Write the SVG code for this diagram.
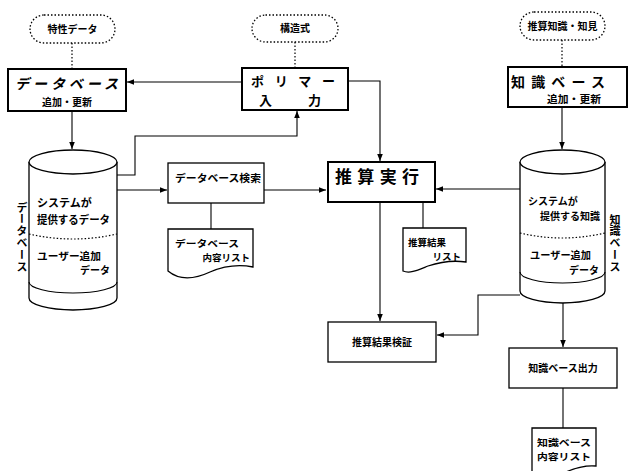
<svg xmlns="http://www.w3.org/2000/svg" width="628" height="471" viewBox="0 0 628 471">
<defs>
<marker id="ah" viewBox="0 0 10 10" refX="10" refY="5" markerWidth="7" markerHeight="7" orient="auto" markerUnits="userSpaceOnUse">
<path d="M0,1 L10,5 L0,9 Z" fill="#000"/>
</marker>
<style>
text{font-family:"Noto Sans CJK JP","Noto Sans CJK SC",sans-serif;fill:#000;font-weight:700}
.s{font-size:10px}
.t{font-size:9.5px}
.m{font-size:11px}
.pill{fill:#fff;stroke:#000;stroke-width:1.3;stroke-dasharray:1.5 2}
.box{fill:#fff;stroke:#000;stroke-width:1.3}
.bbox{fill:#fff;stroke:#000;stroke-width:2}
.cyl{fill:#fff;stroke:#000;stroke-width:1.3}
.ln{fill:none;stroke:#000;stroke-width:1.1}
.arr{fill:none;stroke:#000;stroke-width:1.1;marker-end:url(#ah)}
.dot{fill:none;stroke:#000;stroke-width:1.2;stroke-dasharray:1.5 2}
.vt{writing-mode:vertical-rl;font-size:11px}
</style>
</defs>
<rect width="628" height="471" fill="#fff"/>

<g id="connectors">
<line class="dot" x1="72" y1="43" x2="72" y2="69"/>
<line class="dot" x1="295" y1="42" x2="295" y2="68"/>
<line class="dot" x1="562" y1="40" x2="562" y2="67"/>
<path class="arr" d="M242,82 H127"/>
<path class="arr" d="M348,81 H380 V161"/>
<path class="arr" d="M72,111 V149"/>
<path class="arr" d="M117,175 H135 V136 H297 V111"/>
<path class="arr" d="M117,190 H167"/>
<path class="arr" d="M264,190 H326"/>
<path class="ln" d="M211,203 V229"/>
<path class="arr" d="M562,107 V149"/>
<path class="arr" d="M520,189 H436"/>
<path class="ln" d="M423,202 V228"/>
<path class="arr" d="M380,202 V321"/>
<path class="arr" d="M520,295 H478 V335 H437"/>
<path class="arr" d="M563,303 V347"/>
<path class="ln" d="M563,388 V428"/>
</g>

<g id="pill-tokusei">
<rect class="pill" x="30" y="15" width="85" height="28" rx="14"/>
<text class="s" x="72.5" y="33" text-anchor="middle">特性データ</text>
</g>
<g id="pill-kouzou">
<rect class="pill" x="252" y="15" width="86" height="27" rx="13.5"/>
<text class="s" x="295" y="32" text-anchor="middle">構造式</text>
</g>
<g id="pill-suisan">
<rect class="pill" x="520" y="12" width="85" height="28" rx="14"/>
<text class="s" x="562.5" y="30" text-anchor="middle">推算知識・知見</text>
</g>

<g id="db-update">
<rect class="bbox" x="8" y="69" width="118" height="42"/>
<text x="15" y="89" font-size="14" font-style="italic" textLength="103" lengthAdjust="spacing">データベース</text>
<text class="s" x="67" y="106" text-anchor="middle">追加・更新</text>
</g>

<g id="polymer-input">
<rect class="bbox" x="242" y="68" width="106" height="42"/>
<text x="251" y="86" font-size="13" textLength="84" lengthAdjust="spacing">ポリマー</text>
<text x="259" y="105" font-size="13" textLength="62" lengthAdjust="spacing">入力</text>
</g>

<g id="kb-update">
<rect class="bbox" x="508" y="67" width="119" height="40"/>
<text x="511" y="87" font-size="14" textLength="94" lengthAdjust="spacing">知識ベース</text>
<text class="s" x="547" y="103" textLength="54" lengthAdjust="spacingAndGlyphs">追加・更新</text>
</g>

<g id="database">
<path class="cyl" d="M29,162 V298 A44,12 0 0 0 117,298 V162"/>
<ellipse class="cyl" cx="73" cy="162" rx="44" ry="12"/>
<path class="ln" d="M29,282 A44,11 0 0 0 117,282"/>
<path class="dot" d="M29,234 Q73,244 117,234"/>
<text class="m" x="37" y="207">システムが</text>
<text class="m" x="37" y="224" textLength="73" lengthAdjust="spacingAndGlyphs">提供するデータ</text>
<text class="s" x="37" y="259.5" textLength="64" lengthAdjust="spacingAndGlyphs">ユーザー追加</text>
<text class="s" x="110" y="274" text-anchor="end">データ</text>
<text class="vt" x="22" y="202" letter-spacing="0.8">データベース</text>
</g>

<g id="db-search">
<rect class="box" x="168" y="163" width="96" height="40"/>
<text class="s" x="175" y="182" textLength="86" lengthAdjust="spacingAndGlyphs">データベース検索</text>
</g>

<g id="db-list">
<path class="box" d="M168,229 H253 V267 C238,264 224,266 210,272 C195,279 180,281 168,271 Z"/>
<text class="t" x="175" y="247" textLength="64" lengthAdjust="spacingAndGlyphs">データベース</text>
<text class="t" x="250" y="261" text-anchor="end">内容リスト</text>
</g>

<g id="execute">
<rect class="bbox" x="328" y="162" width="107" height="40"/>
<text x="335" y="183" font-size="17" textLength="84" lengthAdjust="spacing">推算実行</text>
</g>

<g id="result-list">
<path class="box" d="M403,228 H466 V262 C452,260 440,262 428,266 C418,270 410,274 403,271 Z"/>
<text class="t" x="408" y="246">推算結果</text>
<text class="t" x="461" y="260" text-anchor="end">リスト</text>
</g>

<g id="verify">
<rect class="box" x="328" y="322" width="108" height="40"/>
<text class="s" x="382" y="346" text-anchor="middle">推算結果検証</text>
</g>

<g id="knowledge-base">
<path class="cyl" d="M520,162 V291 A42.5,12 0 0 0 605,291 V162"/>
<ellipse class="cyl" cx="562.5" cy="162" rx="42.5" ry="12"/>
<path class="ln" d="M520,272 A42.5,11 0 0 0 605,272"/>
<path class="dot" d="M520,233 Q562,243 605,233"/>
<text class="s" x="528" y="205">システムが</text>
<text class="s" x="600" y="220" text-anchor="end">提供する知識</text>
<text class="s" x="530" y="259" textLength="61" lengthAdjust="spacingAndGlyphs">ユーザー追加</text>
<text class="s" x="599" y="273.5" text-anchor="end">データ</text>
<text class="vt" x="615" y="214" letter-spacing="0.8">知識ベース</text>
</g>

<g id="kb-output">
<rect class="box" x="509" y="348" width="108" height="40"/>
<text class="s" x="563" y="372" text-anchor="middle">知識ベース出力</text>
</g>

<g id="kb-list">
<path class="box" d="M532,428 H596 V466 C585,465 575,468 566,472 L532,472 Z"/>
<text class="t" x="537" y="446" textLength="54" lengthAdjust="spacingAndGlyphs">知識ベース</text>
<text class="t" x="537" y="460" textLength="54" lengthAdjust="spacingAndGlyphs">内容リスト</text>
</g>
</svg>
